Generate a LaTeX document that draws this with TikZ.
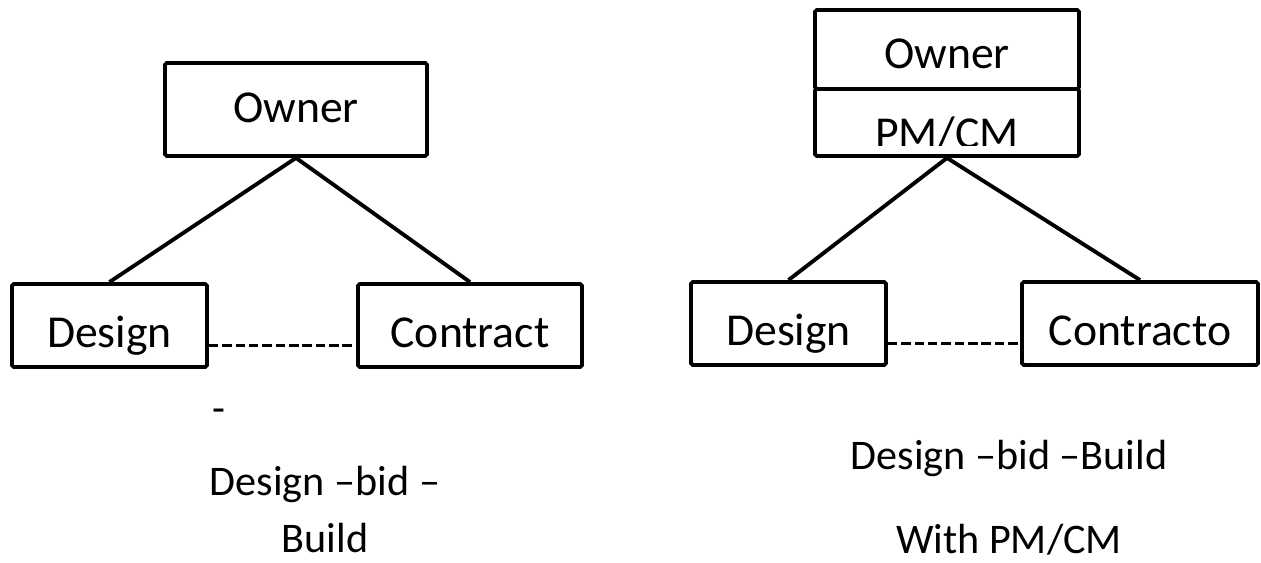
\documentclass[tikz,border=0pt]{standalone}
\usepackage{fontspec}
\setmainfont{Carlito}
\usepackage{tikz}

\tikzset{
  box/.style={draw=black, line width=2.2pt, rounded corners=1pt, inner sep=2pt,
    text height=0.9cm, text depth=0pt, font=\fontsize{26}{31}\selectfont},
  link/.style={draw=black, line width=2.2pt},
  dots/.style={draw=black, line width=1.2pt, dash pattern=on 5.4pt off 2.2pt},
  caption/.style={font=\fontsize{24}{32}\selectfont, align=center}
}

\begin{document}
\begin{tikzpicture}
  \useasboundingbox (0,0) rectangle (25.22,11.26);

  % design-bid-build
  \node[box, text height=0.52cm, minimum width=5.24cm, minimum height=1.86cm] (ownerL) at (5.92,9.07) {Owner};
  \node[box, minimum width=3.90cm, minimum height=1.66cm] (designL) at (2.19,4.75) {Design};
  \node[box, minimum width=4.48cm, minimum height=1.66cm] (contractL) at (9.40,4.75) {Contract};
  \draw[link] (ownerL.south) -- (designL.north);
  \draw[link] (ownerL.south) -- (contractL.north);
  \draw[dots] ([yshift=-0.4cm]designL.east) -- ([yshift=-0.4cm]contractL.west);
  \node[caption, anchor=base] (dashL) at (4.37,2.80) {-};
  \node[caption] (labelL) at (6.50,1.07) {Design –bid –\\Build};

  % design-bid-build with PM/CM
  \node[box, text height=0.78cm, minimum width=5.28cm, minimum height=1.58cm] (ownerR) at (18.94,10.27) {Owner};
  \node[box, minimum width=5.28cm, minimum height=1.34cm] (pmcmR) at (18.94,8.81) {};
  \begin{scope}
    \clip (pmcmR.south west) ++(0,0.24) rectangle (pmcmR.north east);
    \node[anchor=base, inner sep=0pt, font=\fontsize{26}{31}\selectfont] (pmcmtext) at (18.94,8.28) {PM/CM};
  \end{scope}
  \node[box, minimum width=3.90cm, minimum height=1.66cm] (designR) at (15.77,4.79) {Design};
  \node[box, minimum width=4.72cm, minimum height=1.66cm] (contractR) at (22.80,4.79) {Contracto};
  \draw[link] (pmcmR.south) -- (designR.north);
  \draw[link] (pmcmR.south) -- (contractR.north);
  \draw[dots] ([yshift=-0.4cm]designR.east) -- ([yshift=-0.4cm]contractR.west);
  \node[caption, anchor=base] (labelR) at (20.18,1.86) {Design –bid –Build};
  \node[caption, anchor=base] (subR) at (20.18,0.18) {With PM/CM};
\end{tikzpicture}
\end{document}
